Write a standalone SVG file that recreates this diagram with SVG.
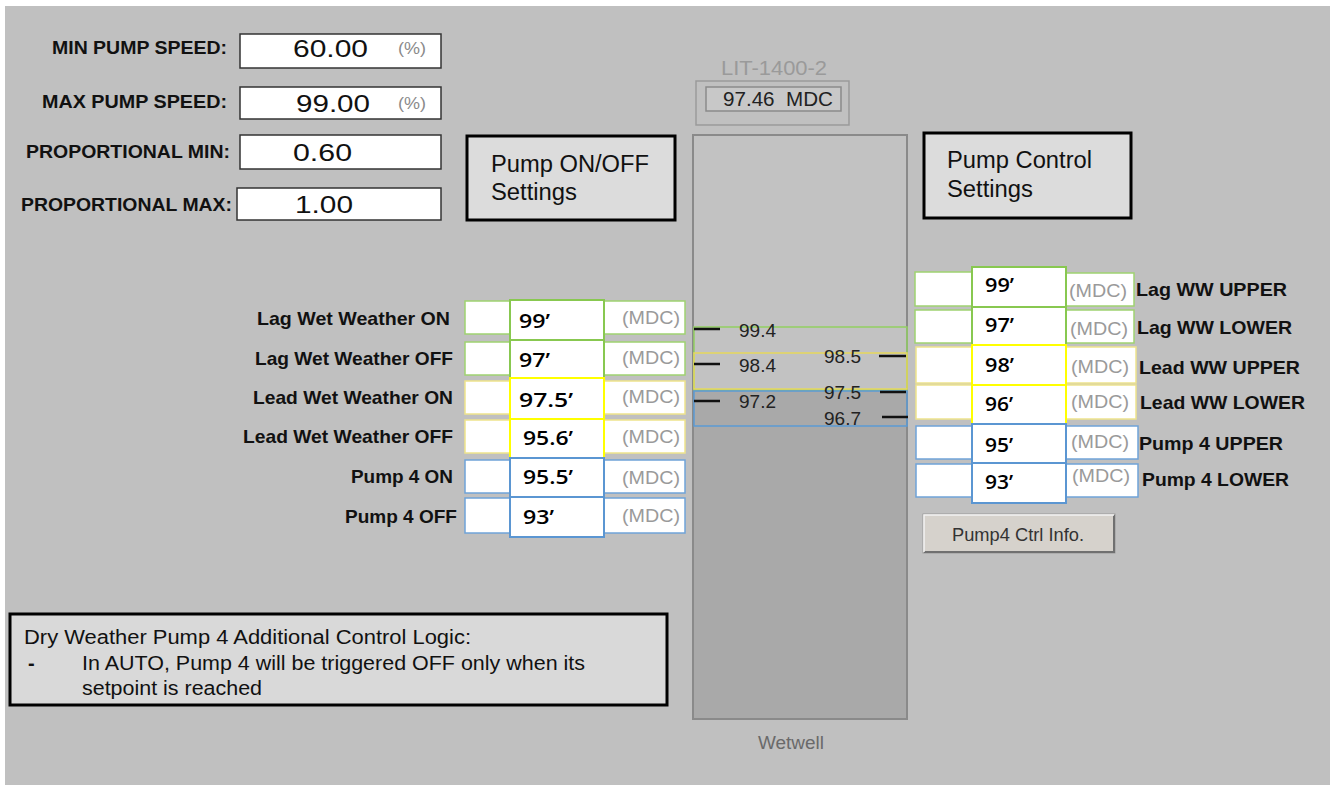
<svg xmlns="http://www.w3.org/2000/svg" width="1334" height="789" viewBox="0 0 1334 789">
<style>
text{font-family:"Liberation Sans",Arial,sans-serif}
.lbl{font-weight:bold;font-size:19px;fill:#111}
.val{font-size:23px;fill:#111}
.unit{font-size:16px;fill:#8a8a8a}
.inbox{fill:#fff;stroke:#333;stroke-width:1.5}
.call{fill:#dcdcdc;stroke:#000;stroke-width:3}
.ctxt{font-size:23px;fill:#111}
.sp{font-family:"Open Sans","Liberation Sans",sans-serif;font-weight:600;font-size:19px;fill:#000}
.mdc{font-size:19px;fill:#9a9a9a}
.tick{font-size:19px;fill:#222}
.tk{stroke:#111;stroke-width:2.5}
.w{fill:#fff}
.g1{stroke:#9fd270;stroke-width:1.5}
.g2{stroke:#88c850;stroke-width:2}
.y1{stroke:#eee38c;stroke-width:1.5}
.y2{stroke:#ffff00;stroke-width:2}
.b1{stroke:#6fa3d8;stroke-width:1.5}
.b2{stroke:#5b96d2;stroke-width:2}
.note{font-size:20px;fill:#111}
</style>
<rect x="0" y="0" width="1334" height="789" fill="#fff"/>
<rect x="5" y="6" width="1325" height="779" fill="#c0c0c0"/>

<g id="min-pump-speed">
<text class="lbl" x="52" y="54" textLength="175" lengthAdjust="spacingAndGlyphs">MIN PUMP SPEED:</text>
<rect class="inbox" x="240" y="34" width="201" height="34"/>
<text class="val" x="293" y="57" textLength="75" lengthAdjust="spacingAndGlyphs">60.00</text>
<text class="unit" x="398" y="54" textLength="28" lengthAdjust="spacingAndGlyphs">(%)</text>
</g>
<g id="max-pump-speed">
<text class="lbl" x="42" y="108" textLength="185" lengthAdjust="spacingAndGlyphs">MAX PUMP SPEED:</text>
<rect class="inbox" x="240" y="87" width="201" height="32"/>
<text class="val" x="296" y="112" textLength="74" lengthAdjust="spacingAndGlyphs">99.00</text>
<text class="unit" x="398" y="109" textLength="28" lengthAdjust="spacingAndGlyphs">(%)</text>
</g>
<g id="prop-min">
<text class="lbl" x="26" y="158" textLength="204" lengthAdjust="spacingAndGlyphs">PROPORTIONAL MIN:</text>
<rect class="inbox" x="240" y="135" width="201" height="34"/>
<text class="val" x="293" y="161" textLength="59" lengthAdjust="spacingAndGlyphs">0.60</text>
</g>
<g id="prop-max">
<text class="lbl" x="21" y="211" textLength="211" lengthAdjust="spacingAndGlyphs">PROPORTIONAL MAX:</text>
<rect class="inbox" x="237" y="188" width="204" height="32"/>
<text class="val" x="295" y="213" textLength="58" lengthAdjust="spacingAndGlyphs">1.00</text>
</g>

<g id="callout-onoff">
<rect class="call" x="467" y="136" width="208" height="84"/>
<text class="ctxt" x="491" y="172" textLength="158" lengthAdjust="spacingAndGlyphs">Pump ON/OFF</text>
<text class="ctxt" x="491" y="200" textLength="86" lengthAdjust="spacingAndGlyphs">Settings</text>
</g>
<g id="callout-control">
<rect class="call" x="924" y="133" width="207" height="85"/>
<text class="ctxt" x="947" y="168" textLength="145" lengthAdjust="spacingAndGlyphs">Pump Control</text>
<text class="ctxt" x="947" y="197" textLength="86" lengthAdjust="spacingAndGlyphs">Settings</text>
</g>

<g id="lit-1400-2">
<text x="721" y="75" font-size="20" fill="#9a9a9a" textLength="106" lengthAdjust="spacingAndGlyphs">LIT-1400-2</text>
<rect x="696" y="81" width="153" height="44" fill="none" stroke="#9a9a9a" stroke-width="1.5"/>
<rect x="706" y="87" width="135" height="24" fill="#c8c8c8" stroke="#8a8a8a" stroke-width="1.5"/>
<text x="723" y="106" font-size="20" fill="#222" textLength="110" lengthAdjust="spacingAndGlyphs">97.46&#160; MDC</text>
</g>

<g id="wetwell">
<rect x="693" y="135" width="214" height="584" fill="#c2c2c2" stroke="#8a8a8a" stroke-width="2"/>
<rect x="694" y="390" width="212" height="328" fill="#a9a9a9"/>
<rect x="694" y="327" width="213" height="63" fill="none" stroke="#92d062" stroke-width="1.5"/>
<rect x="694" y="353" width="213" height="36" fill="none" stroke="#e6d85c" stroke-width="1.5"/>
<rect x="694" y="391" width="213" height="35" fill="none" stroke="#5b9bd5" stroke-width="1.5"/>
<line class="tk" x1="694" y1="329" x2="720" y2="329"/>
<line class="tk" x1="694" y1="364" x2="720" y2="364"/>
<line class="tk" x1="694" y1="401" x2="720" y2="401"/>
<line class="tk" x1="879" y1="356" x2="906" y2="356"/>
<line class="tk" x1="880" y1="392" x2="906" y2="392"/>
<line class="tk" x1="882" y1="417" x2="908" y2="417"/>
<text class="tick" x="739" y="337" textLength="37" lengthAdjust="spacingAndGlyphs">99.4</text>
<text class="tick" x="739" y="372" textLength="37" lengthAdjust="spacingAndGlyphs">98.4</text>
<text class="tick" x="739" y="408" textLength="37" lengthAdjust="spacingAndGlyphs">97.2</text>
<text class="tick" x="824" y="363" textLength="37" lengthAdjust="spacingAndGlyphs">98.5</text>
<text class="tick" x="824" y="399" textLength="37" lengthAdjust="spacingAndGlyphs">97.5</text>
<text class="tick" x="824" y="425" textLength="37" lengthAdjust="spacingAndGlyphs">96.7</text>
<text x="758" y="749" font-size="18" fill="#6a6a6a" textLength="66" lengthAdjust="spacingAndGlyphs">Wetwell</text>
</g>

<g id="lag-ww-on">
<text class="lbl" x="257" y="325" textLength="193" lengthAdjust="spacingAndGlyphs">Lag Wet Weather ON</text>
<rect class="w g1" x="465" y="301" width="45" height="33"/>
<rect class="w g1" x="604" y="301" width="81" height="33"/>
<rect class="w g2" x="510" y="300" width="94" height="40"/>
<text class="sp" x="519" y="328" textLength="31" lengthAdjust="spacingAndGlyphs">99’</text>
<text class="mdc" x="622" y="324" textLength="58" lengthAdjust="spacingAndGlyphs">(MDC)</text>
</g>
<g id="lag-ww-off">
<text class="lbl" x="255" y="365" textLength="198" lengthAdjust="spacingAndGlyphs">Lag Wet Weather OFF</text>
<rect class="w g1" x="465" y="342" width="45" height="33"/>
<rect class="w g1" x="604" y="342" width="81" height="33"/>
<rect class="w g2" x="510" y="340" width="94" height="38"/>
<text class="sp" x="519" y="367" textLength="31" lengthAdjust="spacingAndGlyphs">97’</text>
<text class="mdc" x="622" y="364" textLength="58" lengthAdjust="spacingAndGlyphs">(MDC)</text>
</g>
<g id="lead-ww-on">
<text class="lbl" x="253" y="404" textLength="200" lengthAdjust="spacingAndGlyphs">Lead Wet Weather ON</text>
<rect class="w y1" x="465" y="381" width="45" height="33"/>
<rect class="w y1" x="604" y="381" width="81" height="33"/>
<rect class="w y2" x="510" y="378" width="94" height="41"/>
<text class="sp" x="519" y="407" textLength="54" lengthAdjust="spacingAndGlyphs">97.5’</text>
<text class="mdc" x="622" y="403" textLength="58" lengthAdjust="spacingAndGlyphs">(MDC)</text>
</g>
<g id="lead-ww-off">
<text class="lbl" x="243" y="443" textLength="210" lengthAdjust="spacingAndGlyphs">Lead Wet Weather OFF</text>
<rect class="w y1" x="465" y="420" width="45" height="33"/>
<rect class="w y1" x="604" y="420" width="81" height="33"/>
<rect class="w y2" x="510" y="419" width="94" height="39"/>
<text class="sp" x="523" y="445" textLength="50" lengthAdjust="spacingAndGlyphs">95.6’</text>
<text class="mdc" x="622" y="443" textLength="58" lengthAdjust="spacingAndGlyphs">(MDC)</text>
</g>
<g id="pump4-on">
<text class="lbl" x="351" y="483" textLength="102" lengthAdjust="spacingAndGlyphs">Pump 4 ON</text>
<rect class="w b1" x="465" y="460" width="45" height="33"/>
<rect class="w b1" x="604" y="460" width="81" height="33"/>
<rect class="w b2" x="510" y="458" width="94" height="39"/>
<text class="sp" x="523" y="484" textLength="50" lengthAdjust="spacingAndGlyphs">95.5’</text>
<text class="mdc" x="622" y="484" textLength="58" lengthAdjust="spacingAndGlyphs">(MDC)</text>
</g>
<g id="pump4-off">
<text class="lbl" x="345" y="523" textLength="112" lengthAdjust="spacingAndGlyphs">Pump 4 OFF</text>
<rect class="w b1" x="465" y="498" width="45" height="35"/>
<rect class="w b1" x="604" y="498" width="81" height="35"/>
<rect class="w b2" x="510" y="497" width="94" height="40"/>
<text class="sp" x="523" y="524" textLength="31" lengthAdjust="spacingAndGlyphs">93’</text>
<text class="mdc" x="622" y="522" textLength="58" lengthAdjust="spacingAndGlyphs">(MDC)</text>
</g>

<g id="lag-ww-upper">
<rect class="w g1" x="915" y="272" width="57" height="34"/>
<rect class="w g1" x="1066" y="273" width="68" height="33"/>
<rect class="w g2" x="972" y="267" width="94" height="40"/>
<text class="sp" x="985" y="292" textLength="29" lengthAdjust="spacingAndGlyphs">99’</text>
<text class="mdc" x="1069" y="297" textLength="58" lengthAdjust="spacingAndGlyphs">(MDC)</text>
<text class="lbl" x="1136" y="296" textLength="151" lengthAdjust="spacingAndGlyphs">Lag WW UPPER</text>
</g>
<g id="lag-ww-lower">
<rect class="w g1" x="915" y="310" width="57" height="33"/>
<rect class="w g1" x="1066" y="310" width="68" height="33"/>
<rect class="w g2" x="972" y="307" width="94" height="38"/>
<text class="sp" x="985" y="332" textLength="29" lengthAdjust="spacingAndGlyphs">97’</text>
<text class="mdc" x="1070" y="335" textLength="58" lengthAdjust="spacingAndGlyphs">(MDC)</text>
<text class="lbl" x="1137" y="334" textLength="155" lengthAdjust="spacingAndGlyphs">Lag WW LOWER</text>
</g>
<g id="lead-ww-upper">
<rect class="w y1" x="916" y="347" width="56" height="36"/>
<rect class="w y1" x="1066" y="347" width="70" height="36"/>
<rect class="w y2" x="972" y="345" width="94" height="40"/>
<text class="sp" x="985" y="372" textLength="29" lengthAdjust="spacingAndGlyphs">98’</text>
<text class="mdc" x="1071" y="373" textLength="58" lengthAdjust="spacingAndGlyphs">(MDC)</text>
<text class="lbl" x="1139" y="374" textLength="161" lengthAdjust="spacingAndGlyphs">Lead WW UPPER</text>
</g>
<g id="lead-ww-lower">
<rect class="w y1" x="916" y="385" width="56" height="34"/>
<rect class="w y1" x="1066" y="385" width="70" height="34"/>
<rect class="w y2" x="972" y="385" width="94" height="39"/>
<text class="sp" x="985" y="411" textLength="28" lengthAdjust="spacingAndGlyphs">96’</text>
<text class="mdc" x="1071" y="408" textLength="58" lengthAdjust="spacingAndGlyphs">(MDC)</text>
<text class="lbl" x="1140" y="409" textLength="165" lengthAdjust="spacingAndGlyphs">Lead WW LOWER</text>
</g>
<g id="pump4-upper">
<rect class="w b1" x="916" y="426" width="56" height="33"/>
<rect class="w b1" x="1066" y="426" width="72" height="33"/>
<rect class="w b2" x="972" y="424" width="94" height="39"/>
<text class="sp" x="985" y="452" textLength="28" lengthAdjust="spacingAndGlyphs">95’</text>
<text class="mdc" x="1071" y="448" textLength="58" lengthAdjust="spacingAndGlyphs">(MDC)</text>
<text class="lbl" x="1139" y="450" textLength="144" lengthAdjust="spacingAndGlyphs">Pump 4 UPPER</text>
</g>
<g id="pump4-lower">
<rect class="w b1" x="916" y="464" width="56" height="33"/>
<rect class="w b1" x="1066" y="464" width="72" height="33"/>
<rect class="w b2" x="972" y="463" width="94" height="40"/>
<text class="sp" x="985" y="489" textLength="28" lengthAdjust="spacingAndGlyphs">93’</text>
<text class="mdc" x="1072" y="482" textLength="58" lengthAdjust="spacingAndGlyphs">(MDC)</text>
<text class="lbl" x="1142" y="486" textLength="147" lengthAdjust="spacingAndGlyphs">Pump 4 LOWER</text>
</g>

<g id="pump4-ctrl-info">
<rect x="923" y="514" width="192" height="39" fill="#d6d2cc" stroke="#9a9a9a" stroke-width="1"/>
<path d="M924 552 H1114 V515" fill="none" stroke="#707070" stroke-width="2"/>
<path d="M924 552 V515 H1114" fill="none" stroke="#f2f2f2" stroke-width="1.5"/>
<text x="952" y="541" font-size="18" fill="#333" textLength="132" lengthAdjust="spacingAndGlyphs">Pump4 Ctrl Info.</text>
</g>

<g id="note">
<rect x="10" y="614" width="657" height="91" fill="#d9d9d9" stroke="#000" stroke-width="3"/>
<text class="note" x="24" y="644" textLength="447" lengthAdjust="spacingAndGlyphs">Dry Weather Pump 4 Additional Control Logic:</text>
<text class="note" x="28" y="670" font-weight="bold">-</text>
<text class="note" x="82" y="670" textLength="503" lengthAdjust="spacingAndGlyphs">In AUTO, Pump 4 will be triggered OFF only when its</text>
<text class="note" x="82" y="695" textLength="180" lengthAdjust="spacingAndGlyphs">setpoint is reached</text>
</g>

<g id="connectors"></g>
</svg>
